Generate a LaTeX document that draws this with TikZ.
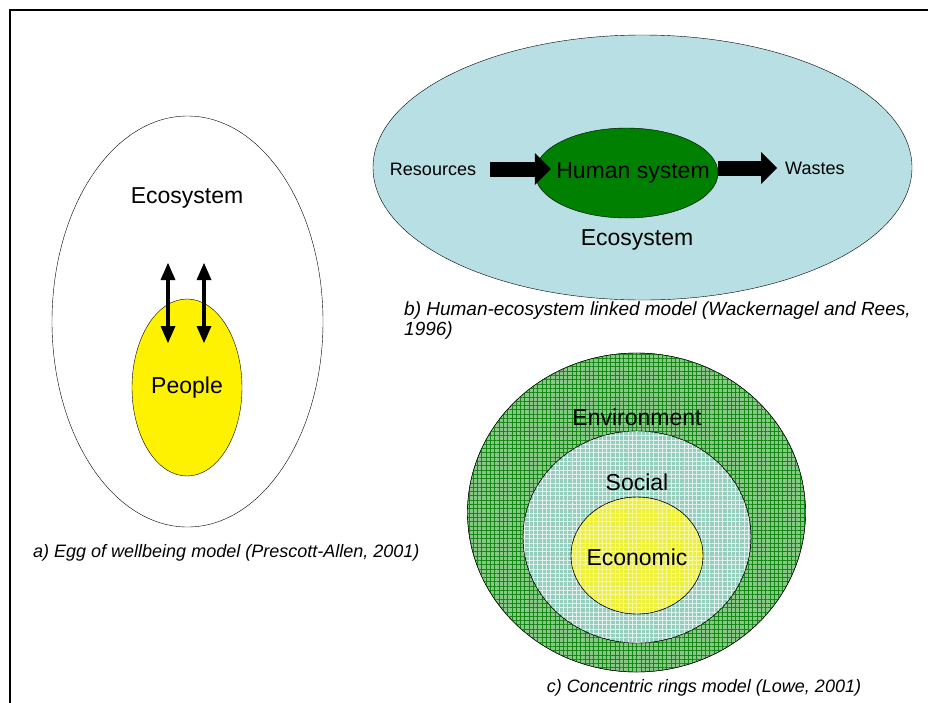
\documentclass[tikz,border=0pt]{standalone}
\usepackage{fontspec}
\setmainfont{Liberation Sans}
\usetikzlibrary{shapes.geometric,arrows.meta,patterns.meta}

\definecolor{seablue}{RGB}{184,223,227}
\definecolor{humangreen}{RGB}{0,128,0}
\definecolor{envgreen}{RGB}{135,200,135}
\definecolor{envline}{RGB}{20,135,20}
\definecolor{socteal}{RGB}{150,206,190}
\definecolor{socline}{RGB}{225,242,238}
\definecolor{ecoyellow}{RGB}{236,240,60}
\definecolor{ecoline}{RGB}{248,248,160}

\tikzset{
	blob/.style={ellipse, draw, inner sep=0pt},
	lbl/.style={inner sep=0pt, font=\fontsize{23}{27}\selectfont},
	smalllbl/.style={inner sep=0pt, font=\fontsize{18}{21}\selectfont},
	caption/.style={inner sep=0pt, align=left, font=\fontsize{18}{19.5}\selectfont\itshape},
	gridded/.style 2 args={fill=#1,
		postaction={pattern={Lines[angle=0,distance=4.3pt,line width=.4pt]}, pattern color=#2},
		postaction={pattern={Lines[angle=90,distance=4.3pt,line width=.4pt]}, pattern color=#2},
		postaction={draw}},
	twoway/.style={line width=4pt, {Triangle[length=17pt,width=15pt,line width=0pt]}-{Triangle[length=17pt,width=15pt,line width=0pt]}},
	fatarrow/.style={line width=15pt, -{Triangle[length=16pt,width=32pt,line width=0pt]}}
}

\begin{document}
\begin{tikzpicture}[x=1pt, y=-1pt]
		\useasboundingbox (0,0) rectangle (928,702);
		
		% Frame
		\draw[line width=2.5pt] (935,10) -- (10,10) -- (10,710);
		
		% a) Egg of wellbeing
		\node[blob, fill=white, minimum width=271pt, minimum height=411pt] (egg) at (187.5,321.5) {};
		\node[lbl] (ecoa) at (187,198) {Ecosystem};
		\node[blob, fill=yellow, minimum width=110pt, minimum height=177pt, font=\fontsize{23}{27}\selectfont] (people) at (187,387.5) {People};
		\foreach \i/\x in {1/168, 2/204} {
			\coordinate (top\i) at (\x,263);
			\coordinate (bot\i) at (\x,343);
			\draw[twoway] (top\i) -- (bot\i);
		}
		\node[caption, anchor=west] (capa) at (33,553) {a) Egg of wellbeing model (Prescott-Allen, 2001)};
		
		% b) Human-ecosystem linked
		\node[blob, fill=seablue, minimum width=539pt, minimum height=265pt] (ecob) at (642.5,167.5) {};
		\node[blob, fill=humangreen, minimum width=183pt, minimum height=90pt] (human) at (626.5,173) {};
		\node[lbl] (humanlbl) at (633,173) {Human system};
		\node[smalllbl] (res) at (433,169) {Resources};
		\node[smalllbl, anchor=west] (wst) at (785,168) {Wastes};
		\node[lbl] (ecoblbl) at (637,240) {Ecosystem};
		\draw[fatarrow] ([xshift=14pt]res.east) -- ([xshift=16pt]human.west |- res.east);
		\draw[fatarrow] (human.east |- wst.west) -- ([xshift=-8pt]wst.west);
		\node[caption, anchor=west, font=\fontsize{19}{19.5}\selectfont\itshape] (capb) at (404,320.5) {b) Human-ecosystem linked model (Wackernagel and Rees,\\1996)};
		
		% c) Concentric rings
		\node[blob, gridded={envgreen}{envline}, minimum width=338pt, minimum height=319pt] (env) at (636.5,512.5) {};
		\node[blob, gridded={socteal}{socline}, minimum width=228pt, minimum height=212pt] (soc) at (637,537) {};
		\node[blob, gridded={ecoyellow}{ecoline}, minimum width=132pt, minimum height=117pt] (eco) at (637,555.5) {};
		\node[lbl] (envlbl) at (637,417) {Environment};
		\node[lbl] (soclbl) at (637,482) {Social};
		\node[lbl] (ecolbl) at (637,557) {Economic};
		\node[caption] (capc) at (704,688) {c) Concentric rings model (Lowe, 2001)};
	\end{tikzpicture}
\end{document}
